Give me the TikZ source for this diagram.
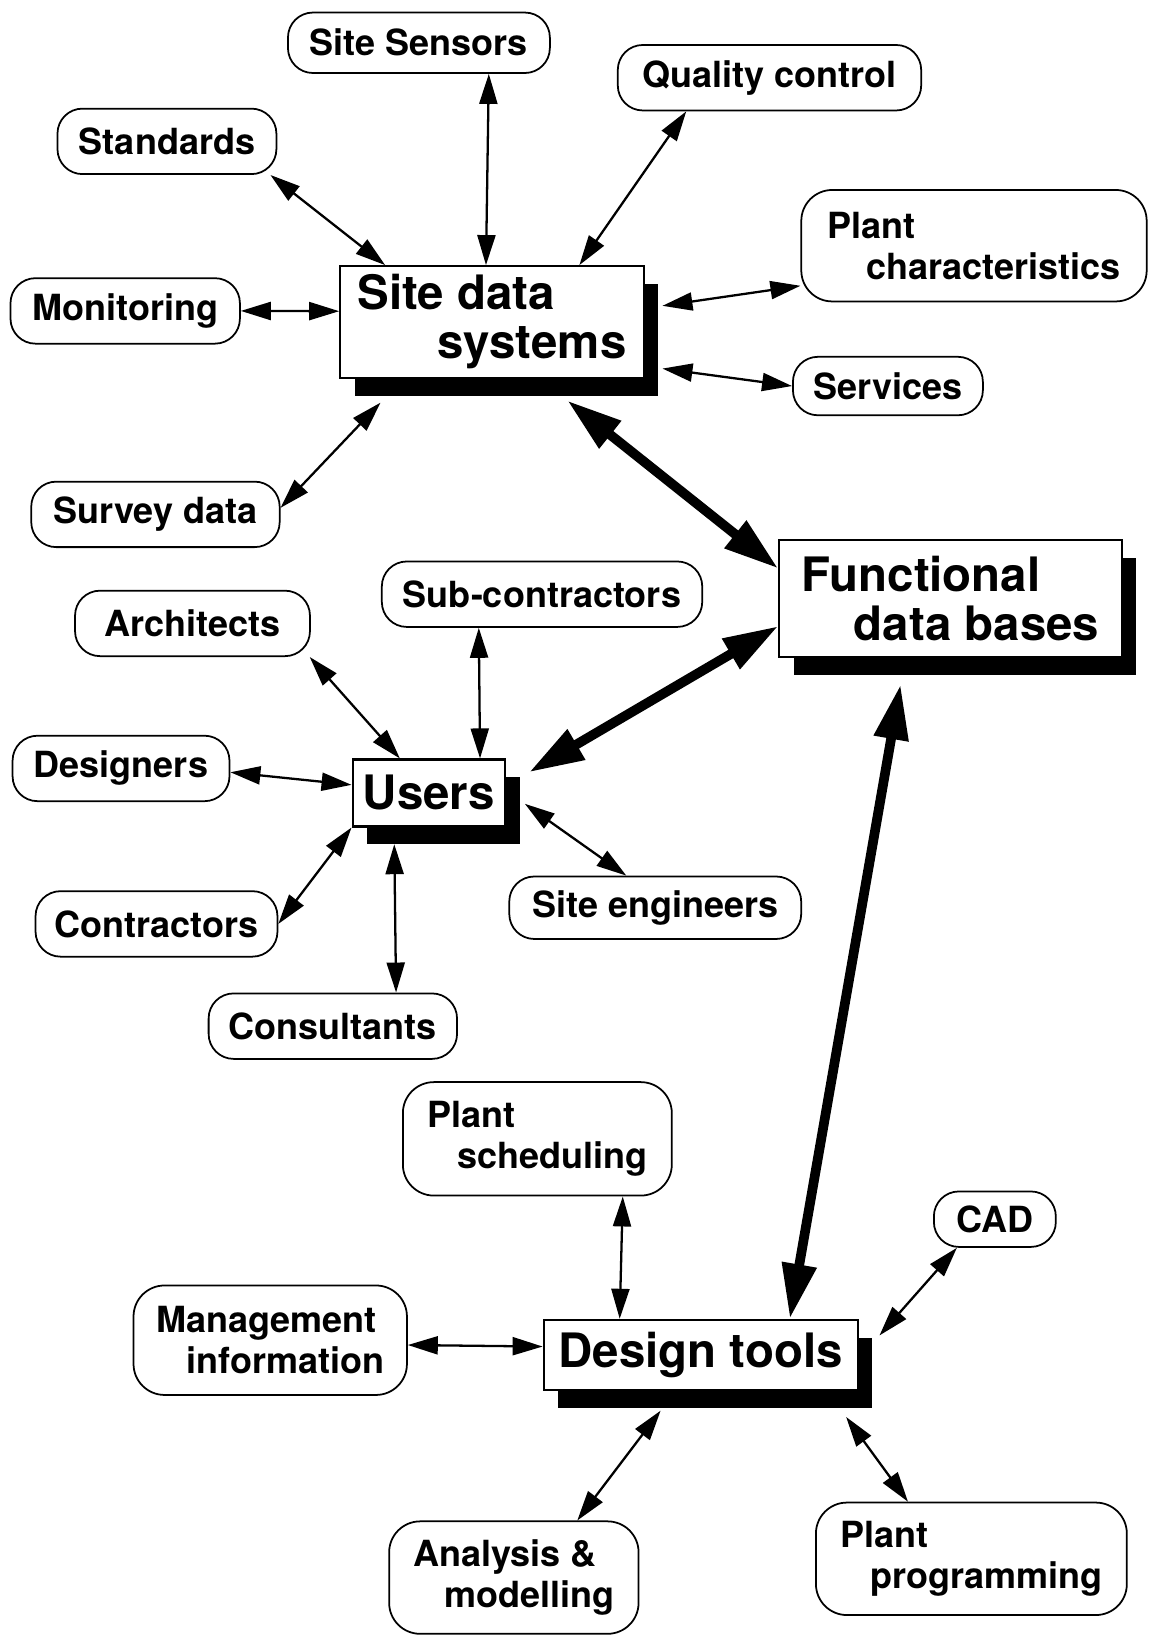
\documentclass[tikz,border=0pt]{standalone}
\usepackage{fontspec}
\setmainfont{TeX Gyre Heros}
\usetikzlibrary{arrows.meta,shadows}

\begin{document}
\begin{tikzpicture}[x=0.02087cm, y=-0.02087cm,
  pill/.style={draw, line width=1pt, rounded corners=0.5cm, align=left, inner sep=0pt, minimum height=1.31cm, font=\bfseries\fontsize{20.5}{23.5}\selectfont},
  pillbig/.style={pill, rounded corners=0.62cm},
  mainbox/.style={draw, line width=1.2pt, fill=white, align=left, inner sep=0pt, font=\bfseries\fontsize{27}{28}\selectfont, drop shadow={shadow xshift=0.29cm, shadow yshift=-0.36cm, opacity=1, fill=black}},
  dar/.style={line width=1.3pt, {Triangle[length=0.6cm,width=0.36cm]}-{Triangle[length=0.6cm,width=0.36cm]}},
  fat/.style={line width=5.5pt, {Triangle[length=1.1cm,width=0.66cm]}-{Triangle[length=1.1cm,width=0.66cm]}}
]
\useasboundingbox (0,0) rectangle (1103,1568);

% main boxes
\node[mainbox, minimum width=6.07cm, minimum height=2.23cm] (sds) at (471.5,308.5) {Site data\\\hspace*{1.6cm}systems};
\node[mainbox, minimum width=6.85cm, minimum height=2.34cm] (fdb) at (911,574) {Functional\\\hspace*{1.04cm}data bases};
\node[mainbox, minimum width=3.05cm, minimum height=1.34cm] (users) at (411,760) {Users};
\node[mainbox, minimum width=6.28cm, minimum height=1.40cm] (dt) at (671.5,1298.5) {Design tools};

% site data
\node[pill, minimum width=5.24cm, minimum height=1.21cm] (sens) at (401.5,41) {Site Sensors};
\node[pill, minimum width=6.07cm] (qual) at (737.5,74.5) {Quality control};
\node[pill, minimum width=4.38cm] (stand) at (160,135.5) {Standards};
\node[pillbig, minimum width=6.91cm, minimum height=2.23cm] (plant) at (933.5,235.5) {Plant\\\hspace*{0.79cm}characteristics};
\node[pill, minimum width=4.59cm] (monit) at (120,298) {Monitoring};
\node[pill, minimum width=3.80cm, minimum height=1.17cm] (serv) at (851,370) {Services};
\node[pill, minimum width=4.97cm] (survey) at (149,493) {Survey data};

% users
\node[pill, minimum width=6.41cm] (subc) at (519.5,569.5) {Sub-contractors};
\node[pill, minimum width=4.70cm] (arch) at (184.5,597.5) {Architects};
\node[pill, minimum width=4.34cm] (desig) at (116,736.5) {Designers};
\node[pill, minimum width=4.84cm] (contr) at (150,885.5) {Contractors};
\node[pill, minimum width=5.84cm, minimum height=1.25cm] (sitee) at (628,870) {Site engineers};
\node[pill, minimum width=4.97cm] (consu) at (319,983.5) {Consultants};

% design tools
\node[pillbig, minimum width=5.38cm, minimum height=2.27cm] (psched) at (515,1091.5) {Plant\\\hspace*{0.6cm}scheduling};
\node[pill, minimum width=2.44cm, minimum height=1.11cm] (cad) at (953.5,1168.5) {CAD};
\node[pillbig, minimum width=5.47cm, minimum height=2.19cm] (mgmt) at (259,1284.5) {Management\\\hspace*{0.6cm}information};
\node[pillbig, minimum width=4.99cm, minimum height=2.25cm] (analy) at (492.5,1512) {Analysis \&\\\hspace*{0.63cm}modelling};
\node[pillbig, minimum width=6.22cm, minimum height=2.25cm] (pprog) at (931,1494) {Plant\\\hspace*{0.6cm}programming};

\draw[dar] (sens.336) -- (sds.96);
\draw[dar] (qual.202) -- (sds.33);
\draw[dar] (stand.342) -- (sds.152);
\draw[dar] (monit.east) -- (sds.176);
\draw[dar] (plant.193) -- ([shift={(17,0)}]sds.6);
\draw[dar] (serv.west) -- ([shift={(17,0)}]sds.343);
\draw[dar] (survey.3) -- ([shift={(0,23)}]sds.207);

\draw[fat] ([shift={(0,21)}]sds.323) -- (fdb.170);
\draw[fat] (fdb.189) -- ([shift={(22,0)}]users.15);
\draw[fat] ([shift={(0,25)}]fdb.230) -- (dt.22);

\draw[dar] (subc.208) -- (users.34);
\draw[dar] (arch.344) -- (users.130);
\draw[dar] (desig.358) -- (users.174);
\draw[dar] (contr.east) -- (users.south west);
\draw[dar] (sitee.132) -- ([shift={(18,0)}]users.352);
\draw[dar] (consu.28) -- ([shift={(0,16)}]users.225);

\draw[dar] (psched.326) -- (dt.156);
\draw[dar] (cad.217) -- ([shift={(20,0)}]dt.7);
\draw[dar] (mgmt.358) -- (dt.177);
\draw[dar] (analy.42) -- ([shift={(0,19)}]dt.222);
\draw[dar] (pprog.138) -- ([shift={(-12,25)}]dt.south east);
\end{tikzpicture}
\end{document}
